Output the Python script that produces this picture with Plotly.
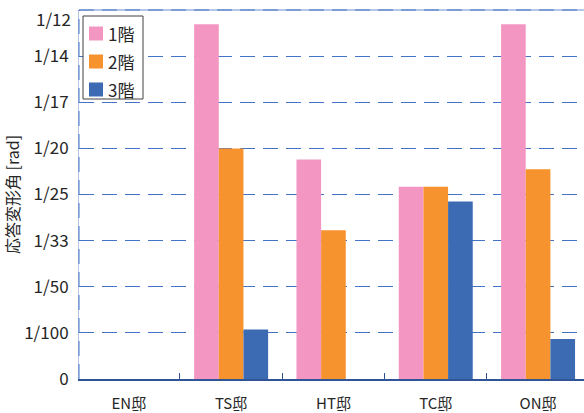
import plotly.graph_objects as go

# Residences and storeys
houses = ["EN邸", "TS邸", "HT邸", "TC邸", "ON邸"]
floors = ["1階", "2階", "3階"]

# Response story drift angle [rad] per storey (None = no storey / no data)
drift_1f = [None, 1 / 13, 1 / 21, 1 / 24, 1 / 13]
drift_2f = [None, 1 / 20, 1 / 31, 1 / 24, 1 / 22]
drift_3f = [None, 1 / 93, None, 1 / 26, 1 / 115]

# Tick marks on the drift axis and their labels (top label placed separately
# so that it sits just inside the figure)
tick_vals = [0, 0.01, 0.02, 0.03, 0.04, 0.05, 0.06, 0.07, 0.08]
tick_text = ["0", "1/100", "1/50", "1/33", "1/25", "1/20", "1/17", "1/14", "1/12"]

colors = ["#F397C2", "#F7932F", "#3C6BB3"]
font_family = "Noto Sans CJK JP"
text_color = "#262626"
grid_color = "#4472C4"

fig = go.Figure()
for name, vals, col in zip(floors, [drift_1f, drift_2f, drift_3f], colors):
    fig.add_trace(go.Bar(x=houses, y=vals, name=name, showlegend=False,
                         marker=dict(color=col, line=dict(width=0))))

fig.update_layout(
    width=584,
    height=413,
    margin=dict(l=79, r=0, t=10, b=34),
    paper_bgcolor="white",
    plot_bgcolor="white",
    barmode="group",
    bargap=0.277,
    bargroupgap=0,
    font=dict(family=font_family, color=text_color, size=15),
    xaxis=dict(
        range=[-0.487, 4.449],
        automargin=False,
        showgrid=False,
        showline=True, linecolor="#2F5597", linewidth=1.5,
        ticks="inside", tickson="boundaries", ticklen=6, tickcolor="#2F5597", tickwidth=1,
        tickfont=dict(size=15, family=font_family, color=text_color),
        ticklabelstandoff=10,
    ),
    yaxis=dict(
        range=[0, 0.08001],
        automargin=False,
        tickvals=tick_vals,
        ticktext=tick_text[:-1] + [""],
        showgrid=True, gridcolor=grid_color, gridwidth=1, griddash="15px,8px",
        zeroline=False,
        showline=True, linecolor="#B4C7E7", linewidth=1,
        ticks="", ticklabelstandoff=6,
        tickfont=dict(size=17, family=font_family, color=text_color),
        title=dict(text="応答変形角 [rad]", font=dict(size=16, family=font_family, color=text_color), standoff=1),
    ),
)

# Dashed left frame line and top frame line
fig.add_shape(type="line", xref="paper", yref="paper", x0=0, x1=0, y0=0, y1=1,
              line=dict(color=grid_color, width=1, dash="15px,8px"), layer="above")
fig.add_shape(type="line", xref="paper", yref="paper", x0=0, x1=1, y0=1, y1=1,
              line=dict(color="#B4C7E7", width=2), layer="below")
fig.add_shape(type="line", xref="paper", yref="paper", x0=0, x1=1, y0=1, y1=1,
              line=dict(color=grid_color, width=1, dash="15px,8px"), layer="below")

# Helpers converting figure pixels to paper coordinates
plot_w, plot_h, left, top = 505, 369, 79, 10
def px(x):
    return (x - left) / plot_w
def py(y):
    return 1 - (y - top) / plot_h

# Top tick label, nudged down so it stays inside the figure
fig.add_annotation(xref="paper", yref="paper", x=px(73), y=py(18),
                   xanchor="right", yanchor="middle", text=tick_text[-1], showarrow=False,
                   font=dict(size=17, family=font_family, color=text_color))

# Legend box
fig.add_shape(type="rect", xref="paper", yref="paper",
              x0=px(83), x1=px(143), y0=py(99), y1=py(16),
              line=dict(color="#404040", width=1), fillcolor="white", layer="above")
for i, (name, col) in enumerate(zip(floors, colors)):
    yc = 33.5 + 28 * i
    fig.add_shape(type="rect", xref="paper", yref="paper",
                  x0=px(89), x1=px(103), y0=py(yc + 7), y1=py(yc - 7),
                  line=dict(width=0), fillcolor=col, layer="above")
    fig.add_annotation(xref="paper", yref="paper", x=px(106), y=py(yc),
                       xanchor="left", yanchor="middle", text=name, showarrow=False,
                       font=dict(size=17, family=font_family, color=text_color))

fig.write_html("out.html")
